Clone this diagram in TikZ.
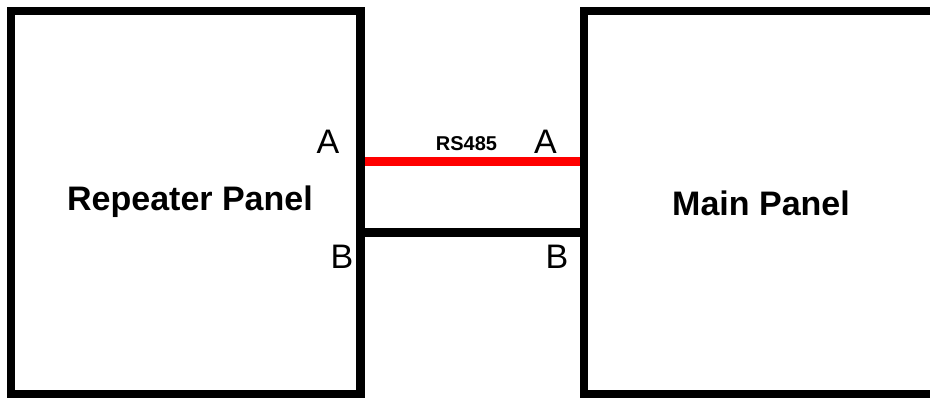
\documentclass[tikz,border=0pt]{standalone}
\usepackage{fontspec}
\setmainfont{Liberation Sans}
\begin{document}
\begin{tikzpicture}[x=1pt,y=-1pt,
  panel/.style={draw=black, line width=8.5pt, rectangle, inner sep=0pt, font=\fontsize{34}{40}\selectfont\bfseries},
  port/.style={anchor=base, inner sep=0pt, font=\fontsize{34}{40}\selectfont},
  wire/.style={line width=9pt, shorten <=-3pt, shorten >=-3pt}]
\useasboundingbox (0,0) rectangle (930,397);
\coordinate (ya) at (0,161.5);
\coordinate (yb) at (0,232.5);
\node[panel, minimum width=349.5pt, minimum height=383pt] (rep) at (185.75,202.5) {};
\node[panel, minimum width=354pt, minimum height=383pt] (main) at (761,202.5) {};
\draw[wire, red] (rep.east |- ya) -- (main.west |- ya);
\draw[wire, black] (rep.east |- yb) -- (main.west |- yb);
\draw[black, line width=8.5pt] (360.5,11) -- (360.5,394) (584,11) -- (584,394);
\node[port, font=\fontsize{34}{40}\selectfont\bfseries] (repl) at (190,210) {Repeater Panel};
\node[port, font=\fontsize{34}{40}\selectfont\bfseries] (mainl) at (761,215) {Main Panel};
\node[port] (la) at (328,153) {A};
\node[port] (lb) at (342,268) {B};
\node[port] (ra) at (545.5,153) {A};
\node[port] (rb) at (557,268) {B};
\node[port, font=\fontsize{20}{24}\selectfont\bfseries] (rs) at (466.5,150) {RS485};
\end{tikzpicture}
\end{document}
